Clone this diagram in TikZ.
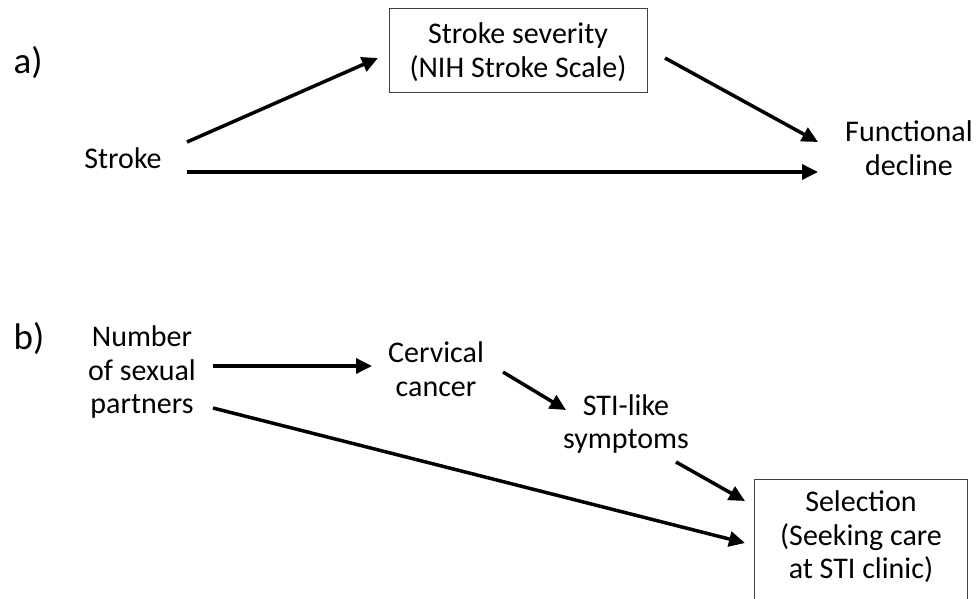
\documentclass[tikz,border=0pt]{standalone}
\usepackage{fontspec}
\setmainfont{Carlito}
\usetikzlibrary{arrows.meta}
\begin{document}
\begin{tikzpicture}[x=1pt,y=-1pt,
  lbl/.style={align=center,inner sep=0pt,font=\fontsize{30}{33.5}\selectfont},
  boxed/.style={draw=black!75,line width=1pt,inner sep=0pt},
  arr/.style={line width=3.5pt,-{Triangle[length=16pt,width=15pt]}},
  tag/.style={inner sep=0pt,font=\fontsize{37}{40}\selectfont}]
\useasboundingbox (0,0) rectangle (980,599);
% a)
\node[tag] (ta) at (28,63) {a)};
\draw[boxed] (389,9) rectangle (647,93);
\node[lbl] (sev) at (518,52) {Stroke severity\\(NIH Stroke Scale)};
\node[lbl] (stroke) at (123,158) {Stroke};
\node[lbl] (func) at (909,148) {Functional\\decline};
\coordinate (a1s) at (187,142); \coordinate (a1e) at (378,58);
\coordinate (a2s) at (665,58); \coordinate (a2e) at (818,142);
\coordinate (a3s) at (187,172); \coordinate (a3e) at (818,172);
\draw[arr] (a1s) -- (a1e);
\draw[arr] (a2s) -- (a2e);
\draw[arr] (a3s) -- (a3e);
% b)
\node[tag] (tb) at (29,339) {b)};
\node[lbl] (num) at (142,372) {Number\\of sexual\\partners};
\node[lbl] (cerv) at (436,369) {Cervical\\cancer};
\node[lbl] (sti) at (626,424) {STI-like\\symptoms};
\draw[boxed] (754,479) -- (967,479) -- (967,605) (754,605) -- (754,479);
\node[lbl] (sel) at (861,537) {Selection\\(Seeking care\\at STI clinic)};
\coordinate (b1s) at (213,366); \coordinate (b1e) at (372,366);
\coordinate (b2s) at (503,372); \coordinate (b2e) at (566,410);
\coordinate (b3s) at (676,462); \coordinate (b3e) at (745,501);
\coordinate (b4s) at (213,408); \coordinate (b4e) at (745,543);
\draw[arr] (b1s) -- (b1e);
\draw[arr] (b2s) -- (b2e);
\draw[arr] (b3s) -- (b3e);
\draw[arr] (b4s) -- (b4e);
\end{tikzpicture}
\end{document}
